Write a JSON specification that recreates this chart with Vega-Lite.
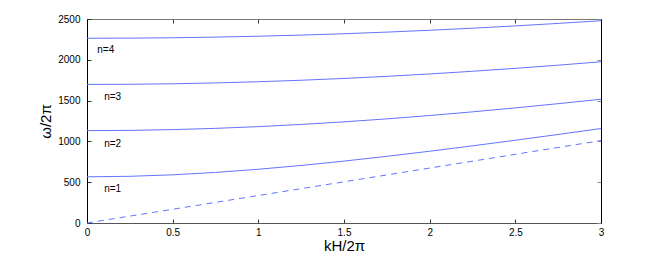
{
  "$schema": "https://vega.github.io/schema/vega-lite/v6.json",
  "width": 514,
  "height": 204,
  "autosize": "none",
  "padding": {"left": 87, "top": 19, "right": 63, "bottom": 34},
  "background": "white",
  "config": {"view": {"stroke": null}, "font": "Liberation Sans"},
  "datasets": {
    "curves": [
      {"k": 0, "f": 566, "n": 1}, {"k": 0.25, "f": 572.2, "n": 1}, {"k": 0.5, "f": 590.5, "n": 1}, {"k": 0.75, "f": 619.8, "n": 1}, {"k": 1, "f": 658.6, "n": 1}, {"k": 1.25, "f": 705.3, "n": 1}, {"k": 1.5, "f": 758.5, "n": 1}, {"k": 1.75, "f": 817.0, "n": 1}, {"k": 2, "f": 879.6, "n": 1}, {"k": 2.25, "f": 945.6, "n": 1}, {"k": 2.5, "f": 1014.3, "n": 1}, {"k": 2.75, "f": 1085.1, "n": 1}, {"k": 3, "f": 1157.8, "n": 1},
      {"k": 0, "f": 1132, "n": 2}, {"k": 0.25, "f": 1135.1, "n": 2}, {"k": 0.5, "f": 1144.4, "n": 2}, {"k": 0.75, "f": 1159.8, "n": 2}, {"k": 1, "f": 1181.0, "n": 2}, {"k": 1.25, "f": 1207.7, "n": 2}, {"k": 1.5, "f": 1239.5, "n": 2}, {"k": 1.75, "f": 1276.2, "n": 2}, {"k": 2, "f": 1317.1, "n": 2}, {"k": 2.25, "f": 1362.1, "n": 2}, {"k": 2.5, "f": 1410.6, "n": 2}, {"k": 2.75, "f": 1462.4, "n": 2}, {"k": 3, "f": 1517.1, "n": 2},
      {"k": 0, "f": 1698, "n": 3}, {"k": 0.25, "f": 1700.1, "n": 3}, {"k": 0.5, "f": 1706.3, "n": 3}, {"k": 0.75, "f": 1716.7, "n": 3}, {"k": 1, "f": 1731.1, "n": 3}, {"k": 1.25, "f": 1749.4, "n": 3}, {"k": 1.5, "f": 1771.5, "n": 3}, {"k": 1.75, "f": 1797.3, "n": 3}, {"k": 2, "f": 1826.6, "n": 3}, {"k": 2.25, "f": 1859.3, "n": 3}, {"k": 2.5, "f": 1895.2, "n": 3}, {"k": 2.75, "f": 1934.0, "n": 3}, {"k": 3, "f": 1975.7, "n": 3},
      {"k": 0, "f": 2264, "n": 4}, {"k": 0.25, "f": 2265.6, "n": 4}, {"k": 0.5, "f": 2270.2, "n": 4}, {"k": 0.75, "f": 2278.0, "n": 4}, {"k": 1, "f": 2288.9, "n": 4}, {"k": 1.25, "f": 2302.8, "n": 4}, {"k": 1.5, "f": 2319.6, "n": 4}, {"k": 1.75, "f": 2339.4, "n": 4}, {"k": 2, "f": 2362.0, "n": 4}, {"k": 2.25, "f": 2387.4, "n": 4}, {"k": 2.5, "f": 2415.4, "n": 4}, {"k": 2.75, "f": 2446.0, "n": 4}, {"k": 3, "f": 2479.1, "n": 4}
    ],
    "light": [{"k": 0, "f": 0}, {"k": 1.5, "f": 505}, {"k": 3, "f": 1010}],
    "labels": [
      {"k": 0.1, "f": 413, "t": "n=1"},
      {"k": 0.1, "f": 963, "t": "n=2"},
      {"k": 0.1, "f": 1550, "t": "n=3"},
      {"k": 0.06, "f": 2125, "t": "n=4"}
    ]
  },
  "layer": [
    {
      "data": {"name": "curves"},
      "mark": {"type": "line", "color": "#6474ff", "strokeWidth": 1, "clip": true},
      "encoding": {
        "x": {"field": "k", "type": "quantitative", "scale": {"domain": [0, 3], "nice": false},
          "axis": {"orient": "bottom", "title": "kH/2π", "titleFontSize": 15, "titleFontWeight": "normal", "titleColor": "#000", "titlePadding": 1,
            "values": [0, 0.5, 1, 1.5, 2, 2.5, 3], "format": "~g", "labelFontSize": 10, "labelColor": "#000", "labelPadding": 8, "labelFlush": false,
            "tickSize": -4, "tickColor": "#333", "domainColor": "#555", "grid": false}},
        "y": {"field": "f", "type": "quantitative", "scale": {"domain": [0, 2500], "nice": false},
          "axis": {"orient": "left", "title": "ω/2π", "titleFontSize": 15, "titleFontWeight": "normal", "titleColor": "#000", "titlePadding": 4,
            "values": [0, 500, 1000, 1500, 2000, 2500], "format": "d", "labelFontSize": 10, "labelColor": "#000", "labelPadding": 11, "labelFlush": false,
            "tickSize": -4, "tickColor": "#333", "domainColor": "#000", "grid": false}},
        "detail": {"field": "n", "type": "nominal"}
      }
    },
    {
      "data": {"name": "light"},
      "mark": {"type": "line", "color": "#6474ff", "strokeWidth": 1, "strokeDash": [6, 5]},
      "encoding": {
        "x": {"field": "k", "type": "quantitative",
          "axis": {"orient": "top", "title": null, "labels": false, "values": [0, 0.5, 1, 1.5, 2, 2.5, 3], "tickSize": -4, "tickColor": "#333", "domainColor": "#777", "grid": false}},
        "y": {"field": "f", "type": "quantitative",
          "axis": {"orient": "right", "title": null, "labels": false, "values": [0, 500, 1000, 1500, 2000, 2500], "tickSize": -4, "tickColor": "#888", "domainColor": "#000", "grid": false}}
      }
    },
    {
      "data": {"name": "labels"},
      "mark": {"type": "text", "align": "left", "baseline": "middle", "fontSize": 10, "color": "#000"},
      "encoding": {
        "x": {"field": "k", "type": "quantitative", "axis": null},
        "y": {"field": "f", "type": "quantitative", "axis": null},
        "text": {"field": "t"}
      }
    }
  ],
  "resolve": {"axis": {"x": "independent", "y": "independent"}}
}
